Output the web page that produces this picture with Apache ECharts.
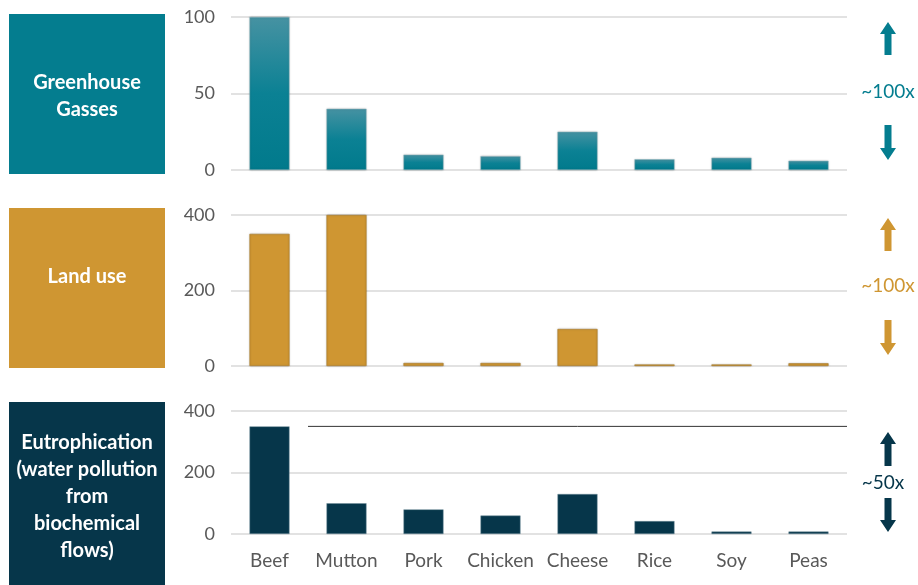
<!DOCTYPE html>
<html>
<head>
    <meta charset="utf-8">
    <title>Environmental impact by food</title>
    <script src="https://cdn.jsdelivr.net/npm/echarts@6/dist/echarts.min.js"></script>
    <style>
        html, body { margin: 0; padding: 0; background: #fff; }
        #chart1 { width: 918px; height: 585px; }
    </style>
</head>
<body>
<div id="chart1"></div>
<script>
    // 数据
    var foods = ['Beef', 'Mutton', 'Pork', 'Chicken', 'Cheese', 'Rice', 'Soy', 'Peas'];
    var greenhouse = [100, 40, 10, 9, 25, 7, 8, 6];
    var landUse = [350, 400, 8, 8, 98, 4, 4, 7];
    var eutrophication = [350, 100, 80, 60, 130, 42, 8, 8];
    // reference line in the last panel: [x position (category index), value]
    var refLine = [[0.5, 350], [7.5, 350]];
    var panelNames = ['Greenhouse\nGasses', 'Land use', 'Eutrophication\n(water pollution\nfrom\nbiochemical\nflows)'];
    var spreadLabels = ['~100x', '~100x', '~50x'];

    var teal = '#047d8f', gold = '#cf9632', navy = '#06364a';
    var grey = '#595959';

    var grids = [
        {left: 231, right: 71, top: 17, height: 153},
        {left: 231, right: 71, top: 215, height: 151},
        {left: 231, right: 71, top: 411, height: 123}
    ];

    function yAxis(idx, max, interval) {
        return {
            type: 'value', gridIndex: idx, min: 0, max: max, interval: interval,
            axisLine: {show: false}, axisTick: {show: false},
            axisLabel: {color: grey, fontSize: 18, fontFamily: 'Lato', margin: 16},
            splitLine: {lineStyle: {color: '#d9d9d9', width: 1.5}}
        };
    }
    function xAxis(idx, showLabel) {
        return {
            type: 'category', gridIndex: idx, data: foods,
            axisLine: {show: false}, axisTick: {show: false},
            axisLabel: {show: showLabel, interval: 0, color: grey, fontSize: 19, fontFamily: 'Lato', margin: 17}
        };
    }

    // 左侧色块 + 右侧箭头
    var graphics = [];
    // [left, top, height, text centre y]
    var boxes = [[9, 14, 160, 96], [9, 208, 160, 277], [9, 402, 185, 497]];
    var colors = [teal, gold, navy];
    boxes.forEach(function (b, i) {
        graphics.push({
            type: 'rect', left: b[0], top: b[1],
            shape: {width: 156, height: b[2]},
            style: {fill: colors[i]}
        });
        graphics.push({
            type: 'text', x: b[0] + 78, y: b[3],
            style: {
                text: panelNames[i], fill: '#fff', fontSize: 20, fontWeight: 'bold',
                fontFamily: 'Lato', align: 'center', verticalAlign: 'middle', lineHeight: 27
            }
        });
    });
    var arrows = [[22, 55, 92, 125, 160], [218, 251, 286, 320, 355], [432, 466, 483, 498, 532]];
    arrows.forEach(function (a, i) {
        var cx = 888;
        graphics.push({
            type: 'polygon',
            shape: {points: [[cx, a[0]], [cx + 8, a[0] + 12], [cx + 3.5, a[0] + 12], [cx + 3.5, a[1]],
                [cx - 3.5, a[1]], [cx - 3.5, a[0] + 12], [cx - 8, a[0] + 12]]},
            style: {fill: colors[i]}
        });
        graphics.push({
            type: 'polygon',
            shape: {points: [[cx, a[4]], [cx + 8, a[4] - 12], [cx + 3.5, a[4] - 12], [cx + 3.5, a[3]],
                [cx - 3.5, a[3]], [cx - 3.5, a[4] - 12], [cx - 8, a[4] - 12]]},
            style: {fill: colors[i]}
        });
        graphics.push({
            type: 'text', x: i === 2 ? 883 : cx, y: a[2],
            style: {
                text: spreadLabels[i], fill: colors[i], fontSize: 19, fontFamily: 'Lato',
                align: 'center', verticalAlign: 'middle'
            }
        });
    });

    var myChart1 = echarts.init(document.getElementById('chart1'));
    myChart1.setOption({
        animation: false,
        grid: grids,
        xAxis: [xAxis(0, false), xAxis(1, false), xAxis(2, true),
            {type: 'value', gridIndex: 2, min: -0.5, max: 7.5, show: false}],
        yAxis: [yAxis(0, 100, 50), yAxis(1, 400, 200), yAxis(2, 400, 200)],
        graphic: graphics,
        series: [
            {
                type: 'bar', xAxisIndex: 0, yAxisIndex: 0, data: greenhouse, barWidth: 40,
                itemStyle: {
                    color: new echarts.graphic.LinearGradient(0, 0, 0, 1, [
                        {offset: 0, color: '#4692a2'}, {offset: 0.5, color: '#0b8194'}, {offset: 1, color: '#017a8c'}
                    ], false),
                    borderColor: '#8fb9c2', borderWidth: 0.5,
                    shadowColor: 'rgba(0,0,0,0.25)', shadowBlur: 2
                }
            },
            {
                type: 'bar', xAxisIndex: 1, yAxisIndex: 1, data: landUse, barWidth: 40,
                itemStyle: {
                    color: gold, borderColor: '#a77720', borderWidth: 0.5,
                    shadowColor: 'rgba(0,0,0,0.25)', shadowBlur: 2
                }
            },
            {
                type: 'bar', xAxisIndex: 2, yAxisIndex: 2, data: eutrophication, barWidth: 40,
                itemStyle: {color: navy, borderColor: '#6f8c98', borderWidth: 0.5}
            },
            {
                type: 'line', xAxisIndex: 3, yAxisIndex: 2, data: refLine, symbol: 'none',
                lineStyle: {color: '#333', width: 1}, silent: true
            }
        ]
    });
</script>
</body>
</html>
